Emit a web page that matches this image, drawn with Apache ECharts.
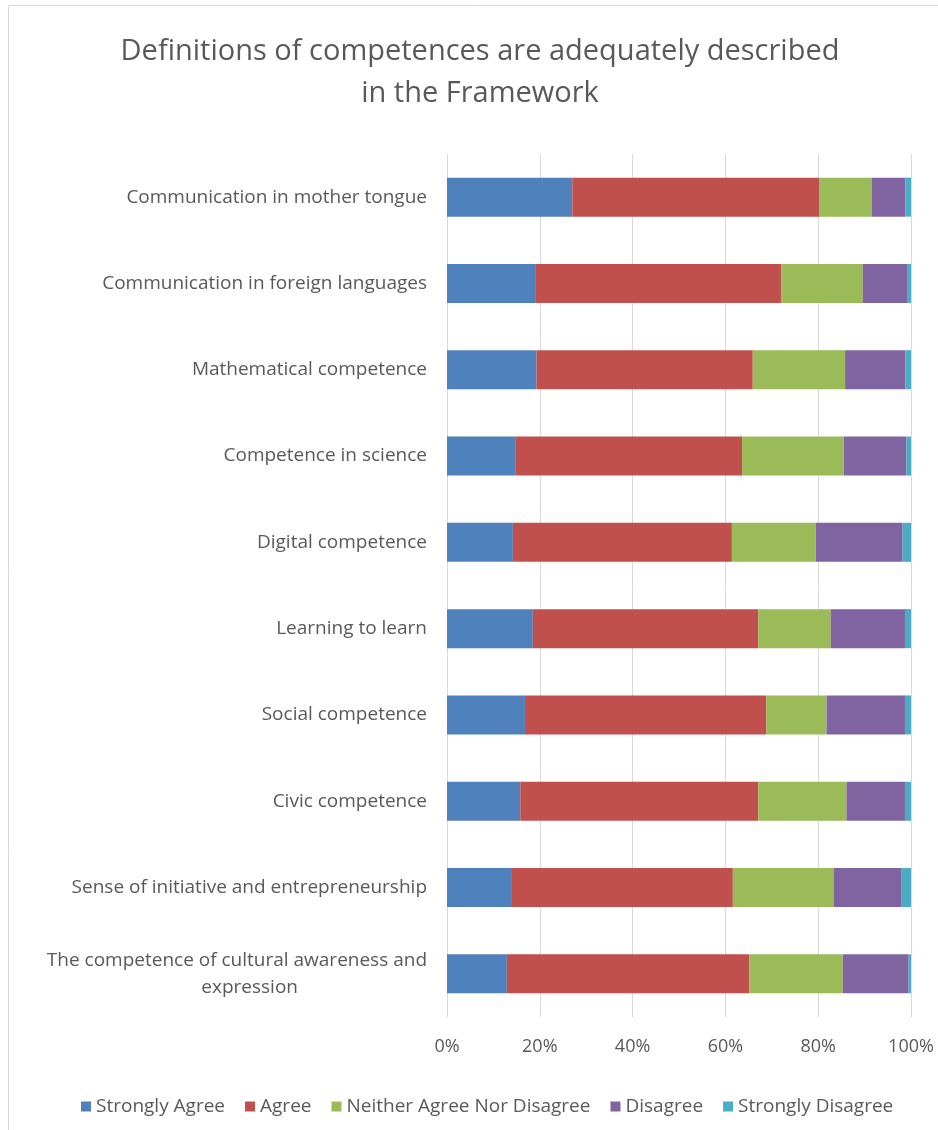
<!DOCTYPE html>
<html>
<head>
<meta charset="utf-8">
<script src="https://cdn.jsdelivr.net/npm/echarts@6/dist/echarts.min.js"></script>
<style>
html,body{margin:0;padding:0;background:#fff;}
#chart{width:938px;height:1130px;}
</style>
</head>
<body>
<div id="chart"></div>
<script>
const categories = [
  "Communication in mother tongue",
  "Communication in foreign languages",
  "Mathematical competence",
  "Competence in science",
  "Digital competence",
  "Learning to learn",
  "Social competence",
  "Civic competence",
  "Sense of initiative and entrepreneurship",
  "The competence of cultural awareness and\nexpression"
];
const seriesNames = ["Strongly Agree", "Agree", "Neither Agree Nor Disagree", "Disagree", "Strongly Disagree"];
const stronglyAgree = [27.0, 19.0, 19.3, 14.7, 14.2, 18.5, 16.8, 15.8, 14.0, 12.9];
const agree         = [53.3, 53.1, 46.6, 48.9, 47.2, 48.6, 52.0, 51.3, 47.6, 52.3];
const neither       = [11.2, 17.5, 19.9, 21.9, 18.1, 15.6, 13.0, 19.0, 21.7, 20.1];
const disagree      = [7.3, 9.7, 13.0, 13.5, 18.7, 16.0, 16.9, 12.6, 14.7, 14.2];
const stronglyDis   = [1.2, 0.7, 1.2, 1.0, 1.8, 1.3, 1.3, 1.3, 2.0, 0.5];
const colors = ["#4F81BD", "#C0504D", "#9BBB59", "#8064A2", "#4BACC6"];
const allData = [stronglyAgree, agree, neither, disagree, stronglyDis];

const FONT = "'Open Sans', 'Liberation Sans', sans-serif";
const chart = echarts.init(document.getElementById('chart'));
chart.setOption({
  animation: false,
  color: colors,
  graphic: [{
    type: 'rect', shape: {x: 8.5, y: 5.5, width: 940, height: 1130},
    style: {fill: 'none', stroke: '#d9d9d9', lineWidth: 1}, silent: true
  }],
  title: {
    text: "Definitions of competences are adequately described\nin the Framework",
    left: 480, top: 31, textAlign: 'center', padding: 0,
    textStyle: {fontFamily: FONT, fontSize: 29, fontWeight: 'normal', color: '#595959', lineHeight: 42}
  },
  legend: {
    data: seriesNames, left: 76, top: 1092, itemWidth: 10, itemHeight: 10, itemGap: 20,
    icon: 'rect',
    textStyle: {fontFamily: FONT, fontSize: 19, color: '#595959'}
  },
  grid: {left: 447, right: 27, top: 154, bottom: 113, containLabel: false},
  xAxis: {
    type: 'value', min: 0, max: 100, interval: 20,
    axisLine: {show: false}, axisTick: {show: false},
    splitLine: {lineStyle: {color: '#d9d9d9', width: 1}},
    axisLabel: {formatter: '{value}%', color: '#595959', fontFamily: FONT, fontSize: 18, margin: 21}
  },
  yAxis: {
    type: 'category', data: categories, inverse: true,
    axisLine: {show: true, lineStyle: {color: '#d9d9d9'}},
    axisTick: {show: false},
    axisLabel: {
      color: '#595959', fontFamily: FONT, fontSize: 19, margin: 20, lineHeight: 27,
      formatter: function (v) {
        if (v.indexOf('\n') >= 0) {
          const p = v.split('\n');
          return '{a|' + p[0] + '}\n{b|' + p[1] + '}';
        }
        return v;
      },
      rich: {
        a: {fontFamily: FONT, fontSize: 19, color: '#595959', lineHeight: 27},
        b: {fontFamily: FONT, fontSize: 19, color: '#595959', lineHeight: 27, padding: [0, 129, 0, 0]}
      }
    }
  },
  series: seriesNames.map((n, i) => ({
    name: n, type: 'bar', stack: 'total', barWidth: 39,
    data: allData[i],
    itemStyle: {color: colors[i]}
  }))
});
</script>
</body>
</html>
